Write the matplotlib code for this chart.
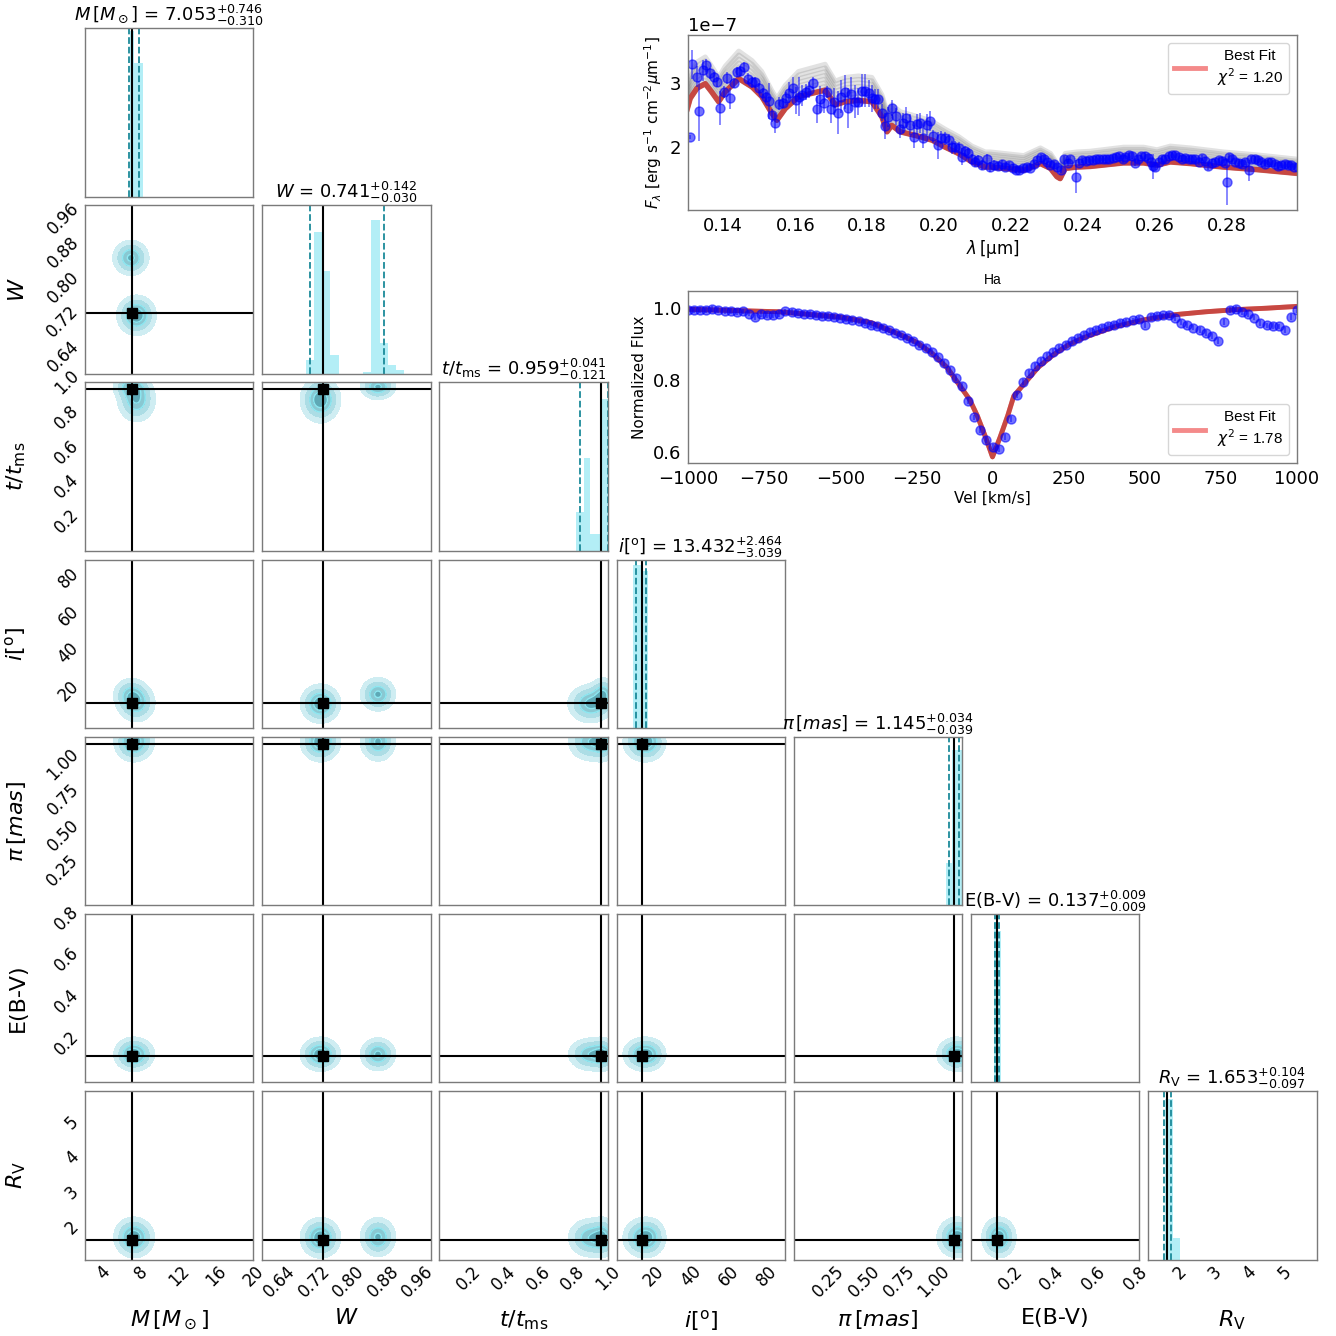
import numpy as np
import matplotlib.pyplot as plt
from matplotlib.ticker import FixedLocator

# ---------------- corner data ----------------
labels = [r'$M\,[M_\odot]$', r'$W$', r'$t/t_{\rm ms}$', r'$i[^{\rm o}]$',
          r'$\pi\,[mas]$', 'E(B-V)', r'$R_{\rm V}$']
medians = [7.053, 0.741, 0.959, 13.432, 1.145, 0.137, 1.653]
err_lo = [0.310, 0.030, 0.121, 3.039, 0.039, 0.009, 0.097]
err_hi = [0.746, 0.142, 0.041, 2.464, 0.034, 0.009, 0.104]
ranges = [(2, 20), (0.6, 0.99), (0.03, 1.0), (0, 90), (0, 1.2), (0.01, 0.82), (1.1, 5.9)]
tick_vals = [[4, 8, 12, 16, 20],
             [0.64, 0.72, 0.80, 0.88, 0.96],
             [0.2, 0.4, 0.6, 0.8, 1.0],
             [20, 40, 60, 80],
             [0.25, 0.50, 0.75, 1.00],
             [0.2, 0.4, 0.6, 0.8],
             [2, 3, 4, 5]]
tick_labels = [['4', '8', '12', '16', '20'],
               ['0.64', '0.72', '0.80', '0.88', '0.96'],
               ['0.2', '0.4', '0.6', '0.8', '1.0'],
               ['20', '40', '60', '80'],
               ['0.25', '0.50', '0.75', '1.00'],
               ['0.2', '0.4', '0.6', '0.8'],
               ['2', '3', '4', '5']]

# marginal histograms (bin edges and heights as fraction of panel)
hist_edges = [[6.78, 7.22, 8.23],
              [0.701, 0.720, 0.739, 0.758, 0.777, 0.796, 0.815, 0.834, 0.853,
               0.872, 0.891, 0.910, 0.929],
              [0.815, 0.862, 0.899, 0.954, 1.0],
              [9.0, 13.0, 17.0],
              [1.085, 1.13, 1.2],
              [0.123, 0.138, 0.153],
              [1.57, 1.80, 2.0]]
hist_heights = [[0.98, 0.79],
                [0.08, 0.84, 0.61, 0.11, 0, 0, 0, 0.01, 0.91, 0.18, 0.05, 0.02],
                [0.23, 0.55, 0.10, 0.90],
                [0.97, 0.93],
                [0.25, 0.92],
                [0.95, 0.90],
                [0.95, 0.13]]

# two posterior modes seen in the 2d panels
mode_weights = [0.55, 0.45]
mode_a_center = [7.5, 0.735, 0.90, 13.0, 1.165, 0.145, 1.72]
mode_a_sigma = [0.95, 0.021, 0.06, 4.7, 0.065, 0.037, 0.26]
mode_b_center = [6.9, 0.868, 0.975, 18.0, 1.165, 0.145, 1.74]
mode_b_sigma = [0.9, 0.019, 0.035, 4.2, 0.065, 0.037, 0.26]

# ---------------- SED data (flux in 1e-7) ----------------
spec_wave = [0.1308, 0.1313, 0.1327, 0.1333, 0.1343, 0.1352, 0.1364, 0.1373, 0.1382, 0.1392,
             0.1401, 0.1410, 0.1419, 0.1429, 0.1438, 0.1447, 0.1458, 0.1468, 0.1480, 0.1489,
             0.1498, 0.1509, 0.1518, 0.1526, 0.1535, 0.1544, 0.1554, 0.1565, 0.1575, 0.1583,
             0.1593, 0.1603, 0.1611, 0.1620, 0.1630, 0.1639, 0.1649, 0.1660, 0.1669, 0.1679,
             0.1688, 0.1699, 0.1708, 0.1718, 0.1728, 0.1737, 0.1746, 0.1755, 0.1765, 0.1774,
             0.1785, 0.1794, 0.1804, 0.1813, 0.1822, 0.1831, 0.1841, 0.1850, 0.1859, 0.1868,
             0.1880, 0.1890, 0.1899, 0.1908, 0.1919, 0.1929, 0.1938, 0.1947, 0.1956, 0.1966,
             0.1975, 0.1984, 0.1996, 0.2006, 0.2017, 0.2026, 0.2035, 0.2044, 0.2054, 0.2063,
             0.2072, 0.2081, 0.2091, 0.2100, 0.2109, 0.2119, 0.2132, 0.2142, 0.2151,
             0.2162, 0.2174, 0.2184, 0.2195, 0.2204, 0.2214, 0.2223, 0.2233, 0.2244, 0.2253,
             0.2264, 0.2273, 0.2283, 0.2290, 0.2299, 0.2309, 0.2318, 0.2327, 0.2338, 0.2348,
             0.2357, 0.2364, 0.2380, 0.2387, 0.2397, 0.2408, 0.2417, 0.2426, 0.2436, 0.2445,
             0.2454, 0.2463, 0.2473, 0.2482, 0.2491, 0.2500, 0.2510, 0.2517, 0.2526, 0.2536,
             0.2543, 0.2552, 0.2561, 0.2571, 0.2580, 0.2589, 0.2594, 0.2600, 0.2610, 0.2619,
             0.2628, 0.2637, 0.2647, 0.2656, 0.2665, 0.2674, 0.2684, 0.2693, 0.2702, 0.2711,
             0.2721, 0.2730, 0.2739, 0.2748, 0.2758, 0.2767, 0.2776, 0.2786, 0.2795, 0.2799,
             0.2804, 0.2813, 0.2823, 0.2832, 0.2841, 0.2850, 0.2860, 0.2867, 0.2876, 0.2885,
             0.2895, 0.2904, 0.2913, 0.2923, 0.2932, 0.2941, 0.2950, 0.2960, 0.2969, 0.2978,
             0.2987, 0.2997]
spec_flux = [2.16, 3.29, 3.10, 2.56, 3.20, 3.28, 3.15, 3.10, 3.02, 2.61,
             2.86, 3.08, 2.76, 3.00, 3.17, 3.19, 3.25, 3.07, 3.01, 3.01,
             2.92, 2.84, 2.78, 2.72, 2.50, 2.38, 2.68, 2.69, 2.76, 2.85,
             2.93, 2.73, 2.79, 2.81, 2.86, 2.89, 3.00, 2.59, 2.75, 2.69,
             2.86, 2.59, 2.71, 2.54, 2.79, 2.86, 2.61, 2.83, 2.71, 2.71,
             2.88, 2.88, 2.84, 2.76, 2.75, 2.75, 2.54, 2.33, 2.47, 2.61,
             2.48, 2.28, 2.38, 2.46, 2.35, 2.16, 2.36, 2.38, 2.14, 2.35,
             2.41, 2.17, 2.03, 2.15, 2.14, 2.11, 2.00, 2.00, 1.98, 1.85,
             1.94, 1.91, 1.82, 1.77, 1.80, 1.72, 1.82, 1.69, 1.72,
             1.70, 1.745, 1.69, 1.72, 1.68, 1.65, 1.64, 1.67, 1.69, 1.68,
             1.73, 1.80, 1.85, 1.81, 1.77, 1.72, 1.73, 1.69, 1.64, 1.81,
             1.76, 1.81, 1.54, 1.76, 1.80, 1.78, 1.80, 1.80, 1.81, 1.81,
             1.82, 1.81, 1.82, 1.83, 1.85, 1.86, 1.81, 1.85, 1.88, 1.86,
             1.76, 1.81, 1.86, 1.87, 1.83, 1.77, 1.70, 1.69, 1.77, 1.82,
             1.81, 1.86, 1.88, 1.88, 1.85, 1.82, 1.83, 1.82, 1.82, 1.81,
             1.77, 1.83, 1.79, 1.70, 1.76, 1.77, 1.80, 1.79, 1.76, 1.46,
             1.85, 1.81, 1.77, 1.76, 1.74, 1.77, 1.64, 1.81, 1.81, 1.80,
             1.77, 1.73, 1.77, 1.77, 1.74, 1.70, 1.72, 1.73, 1.72, 1.72,
             1.69, 1.69]
spec_err = [0.03, 0.23, 0.16, 0.47, 0.16, 0.10, 0.08, 0.08, 0.08, 0.26,
            0.10, 0.10, 0.16, 0.08, 0.08, 0.08, 0.08, 0.08, 0.08, 0.08,
            0.08, 0.08, 0.08, 0.28, 0.10, 0.16, 0.10, 0.08, 0.10, 0.16,
            0.16, 0.21, 0.31, 0.16, 0.13, 0.13, 0.10, 0.21, 0.21, 0.16,
            0.10, 0.21, 0.21, 0.34, 0.26, 0.26, 0.31, 0.26, 0.26, 0.21,
            0.26, 0.26, 0.21, 0.21, 0.16, 0.16, 0.13, 0.21, 0.16, 0.13,
            0.13, 0.13, 0.16, 0.16, 0.16, 0.18, 0.16, 0.16, 0.16, 0.16,
            0.16, 0.10, 0.21, 0.10, 0.10, 0.10, 0.10, 0.10, 0.10, 0.13,
            0.08, 0.08, 0.08, 0.08, 0.08, 0.08, 0.08, 0.08, 0.08,
            0.05, 0.05, 0.05, 0.05, 0.05, 0.05, 0.05, 0.05, 0.05, 0.05,
            0.05, 0.05, 0.05, 0.05, 0.05, 0.05, 0.05, 0.05, 0.05, 0.05,
            0.05, 0.05, 0.26, 0.05, 0.05, 0.05, 0.05, 0.05, 0.05, 0.05,
            0.05, 0.05, 0.05, 0.05, 0.05, 0.05, 0.05, 0.05, 0.05, 0.05,
            0.05, 0.05, 0.05, 0.05, 0.05, 0.12, 0.20, 0.05, 0.05, 0.05,
            0.05, 0.05, 0.05, 0.05, 0.05, 0.05, 0.05, 0.05, 0.05, 0.05,
            0.05, 0.05, 0.05, 0.05, 0.05, 0.05, 0.05, 0.05, 0.05, 0.36,
            0.05, 0.05, 0.05, 0.05, 0.05, 0.05, 0.16, 0.05, 0.05, 0.05,
            0.05, 0.05, 0.05, 0.05, 0.05, 0.05, 0.05, 0.05, 0.05, 0.05,
            0.05, 0.05]
model_wave = [0.1300, 0.1308, 0.1327, 0.1350, 0.1368, 0.1387, 0.1405, 0.1443, 0.1480, 0.1507,
              0.1535, 0.1549, 0.1572, 0.1609, 0.1646, 0.1683, 0.1711, 0.1739, 0.1776, 0.1813,
              0.1841, 0.1855, 0.1868, 0.1892, 0.1943, 0.1980, 0.2017, 0.2054, 0.2091, 0.2128,
              0.2142, 0.2235, 0.2281, 0.2309, 0.2327, 0.2336, 0.2350, 0.2383, 0.2420, 0.2512,
              0.2568, 0.2605, 0.2642, 0.2698, 0.2790, 0.2883, 0.2997]
model_flux = [2.60, 2.76, 2.92, 2.99, 2.86, 2.71, 2.86, 3.07, 2.94, 2.79,
              2.53, 2.42, 2.60, 2.79, 2.84, 2.89, 2.66, 2.71, 2.73, 2.71,
              2.47, 2.24, 2.34, 2.24, 2.17, 2.11, 2.00, 1.90, 1.77, 1.69,
              1.69, 1.64, 1.745, 1.67, 1.54, 1.51, 1.67, 1.69, 1.70, 1.755,
              1.755, 1.72, 1.77, 1.745, 1.69, 1.65, 1.59]
model_sample_scales = [1.0, 1.02, 1.04, 1.06, 1.08, 1.10, 1.12, 1.14]

# ---------------- H-alpha data ----------------
ha_vel = [-1000, -980, -960, -940, -920, -900, -880, -860, -840, -820,
          -800, -780, -760, -740, -720, -700, -680, -660, -640, -620,
          -600, -580, -560, -540, -520, -500, -480, -460, -440, -420,
          -400, -380, -360, -340, -320, -300, -280, -260, -240, -220,
          -200, -180, -160, -140, -120, -100, -80, -60, -40, -20,
          0, 20, 40, 60, 80, 100, 120, 140, 160, 180,
          200, 220, 240, 260, 280, 300, 320, 340, 360, 380,
          400, 420, 440, 460, 480, 500, 520, 540, 560, 580,
          600, 620, 640, 660, 680, 700, 720, 740, 760, 780,
          800, 820, 840, 860, 880, 900, 920, 940, 960, 980, 1000]
ha_flux = [0.996, 0.994, 0.996, 0.995, 0.997, 0.994, 0.992, 0.993, 0.990, 0.991,
           0.985, 0.976, 0.984, 0.981, 0.982, 0.983, 0.991, 0.989, 0.987, 0.985,
           0.983, 0.982, 0.979, 0.978, 0.976, 0.974, 0.970, 0.967, 0.963, 0.958,
           0.954, 0.950, 0.944, 0.938, 0.932, 0.924, 0.916, 0.908, 0.898, 0.889,
           0.879, 0.865, 0.848, 0.828, 0.806, 0.782, 0.742, 0.695, 0.660, 0.633,
           0.612, 0.608, 0.640, 0.690, 0.758, 0.795, 0.820, 0.838, 0.852, 0.866,
           0.879, 0.888, 0.898, 0.909, 0.917, 0.926, 0.933, 0.940, 0.945, 0.950,
           0.954, 0.958, 0.962, 0.966, 0.970, 0.954, 0.975, 0.978, 0.980, 0.981,
           0.972, 0.960, 0.953, 0.946, 0.939, 0.931, 0.923, 0.909, 0.962, 0.994,
           0.998, 0.990, 0.984, 0.974, 0.958, 0.952, 0.951, 0.949, 0.940, 0.975, 0.996]
ha_err = 0.008
ha_model_vel = [-1000, -700, -500, -400, -300, -250, -200, -150, -100, -75, -50, -25, 0,
                25, 50, 70, 100, 150, 200, 250, 300, 400, 500, 600, 700, 800, 900, 1000]
ha_model_flux = [0.997, 0.990, 0.975, 0.960, 0.925, 0.905, 0.875, 0.835, 0.775, 0.745, 0.700,
                 0.645, 0.585, 0.640, 0.700, 0.755, 0.785, 0.835, 0.870, 0.898, 0.918, 0.948,
                 0.968, 0.982, 0.990, 0.996, 1.000, 1.005]

# ---------------- drawing ----------------
W_PX = 1336


def px_rect(x, y, w, h):
    return [x / W_PX, 1 - (y + h) / W_PX, w / W_PX, h / W_PX]


def style(ax, pad=2):
    for s in ax.spines.values():
        s.set_color('#7a7a7a')
        s.set_linewidth(1.0)
    ax.tick_params(length=0, labelsize=12, pad=pad)


fig = plt.figure(figsize=(13.36, 13.36), dpi=100)

left0, top0, step, size = 85, 28, 177.17, 168.5
n = len(labels)
hist_color = '#b3eef6'
dash_color = '#1b8a9a'
fill_colors = ['#cfedf2', '#acdde5', '#89c8d2', '#5ea9b6']
levels = [0.08, 0.25, 0.5, 0.75, 1.01]
centers = [mode_a_center, mode_b_center]
sigmas = [mode_a_sigma, mode_b_sigma]

for r in range(n):
    for c in range(r + 1):
        ax = fig.add_axes(px_rect(left0 + c * step, top0 + r * step, size, size))
        style(ax)
        ax.set_xlim(ranges[c])
        if r == c:
            ax.stairs(hist_heights[c], hist_edges[c], fill=True, color=hist_color)
            ax.axvline(medians[c], color='k', lw=1.5)
            ax.axvline(medians[c] - err_lo[c], color=dash_color, ls='--', lw=1.3)
            ax.axvline(medians[c] + err_hi[c], color=dash_color, ls='--', lw=1.3)
            ax.set_ylim(0, 1)
            ax.set_yticks([])
            ax.set_title('{0} = ${1:.3f}^{{+{2:.3f}}}_{{-{3:.3f}}}$'.format(
                labels[c], medians[c], err_hi[c], err_lo[c]), fontsize=13, pad=3)
        else:
            xs = np.linspace(ranges[c][0], ranges[c][1], 160)
            ys = np.linspace(ranges[r][0], ranges[r][1], 160)
            X, Y = np.meshgrid(xs, ys)
            Z = np.zeros_like(X)
            for wgt, cen, sig in zip(mode_weights, centers, sigmas):
                Z += wgt * np.exp(-0.5 * ((X - cen[c]) / sig[c]) ** 2
                                  - 0.5 * ((Y - cen[r]) / sig[r]) ** 2)
            Z = Z / Z.max()
            ax.contourf(X, Y, Z, levels=levels, colors=fill_colors)
            ax.contour(X, Y, Z, levels=[0.5, 0.75], colors='#8ee8f2', linewidths=1.0)
            ax.axvline(medians[c], color='k', lw=1.5)
            ax.axhline(medians[r], color='k', lw=1.5)
            ax.plot(medians[c], medians[r], 's', color='k', ms=7)
            ax.set_ylim(ranges[r])
            if c == 0:
                ax.set_yticks(tick_vals[r])
                ax.set_yticklabels(tick_labels[r], rotation=45, va='center')
                ax.set_ylabel(labels[r], fontsize=16)
                ax.yaxis.set_label_coords(-0.34, 0.5)
            else:
                ax.set_yticks([])
        if r == n - 1:
            ax.set_xticks(tick_vals[c])
            ax.set_xticklabels(tick_labels[c], rotation=45, ha='center')
            ax.set_xlabel(labels[c], fontsize=16)
            ax.xaxis.set_label_coords(0.5, -0.29)
        else:
            ax.set_xticks([])

# ---- SED panel ----
ax = fig.add_axes(px_rect(688, 35, 609, 175))
style(ax, pad=5)
mw = np.array(model_wave)
mf = np.array(model_flux) * 1e-7
for s in model_sample_scales:
    ax.plot(mw, mf * s, color='#606060', alpha=0.18, lw=3.5)
line, = ax.plot(mw, mf, color='#f48a8a', lw=3.5, label='Best Fit\n$\\chi^2$ = 1.20')
ax.plot(mw, mf, color='#b8322a', alpha=0.75, lw=4)
ax.errorbar(spec_wave, np.array(spec_flux) * 1e-7, yerr=np.array(spec_err) * 1e-7,
            fmt='o', color='blue', alpha=0.55, ms=6.5, elinewidth=1.2, capsize=0)
ax.set_xlim(0.1302, 0.2994)
ax.set_ylim(1.02e-7, 3.75e-7)
ax.xaxis.set_major_locator(FixedLocator([0.14, 0.16, 0.18, 0.20, 0.22, 0.24, 0.26, 0.28]))
ax.yaxis.set_major_locator(FixedLocator([2e-7, 3e-7]))
ax.tick_params(labelsize=13)
ax.yaxis.get_offset_text().set_fontsize(13)
ax.set_xlabel(r'$\lambda\,[\mathrm{\mu m}]$', fontsize=12, labelpad=2)
ax.set_ylabel(r'$F_{\lambda}$ [erg s$^{-1}$ cm$^{-2}$$\mu$m$^{-1}$]', fontsize=11)
leg = ax.legend(handles=[line], loc='upper right', handlelength=2.0,
                prop={'family': 'Liberation Sans', 'size': 11}, edgecolor='#cccccc')
leg.get_texts()[0].set_multialignment('center')

# ---- H-alpha panel ----
ax = fig.add_axes(px_rect(688, 291, 609, 172))
style(ax, pad=5)
hline, = ax.plot(ha_model_vel, ha_model_flux, color='#f48a8a', lw=3.5,
                 label='Best Fit\n$\\chi^2$ = 1.78')
ax.plot(ha_model_vel, ha_model_flux, color='#b8322a', alpha=0.75, lw=3.5)
ax.errorbar(ha_vel, ha_flux, yerr=ha_err, fmt='o', color='blue', alpha=0.55, ms=6.5,
            elinewidth=1.2, capsize=0)
ax.set_xlim(-1000, 1000)
ax.set_ylim(0.568, 1.048)
ax.xaxis.set_major_locator(FixedLocator([-1000, -750, -500, -250, 0, 250, 500, 750, 1000]))
ax.yaxis.set_major_locator(FixedLocator([0.6, 0.8, 1.0]))
ax.tick_params(labelsize=13)
ax.set_xlabel('Vel [km/s]', fontsize=11, labelpad=2)
ax.set_ylabel('Normalized Flux', fontsize=11)
ax.set_title('Ha', fontsize=10, family='Liberation Sans', pad=5)
leg = ax.legend(handles=[hline], loc='lower right', handlelength=2.0,
                prop={'family': 'Liberation Sans', 'size': 11}, edgecolor='#cccccc')
leg.get_texts()[0].set_multialignment('center')

fig.savefig('out.png', dpi=100)
